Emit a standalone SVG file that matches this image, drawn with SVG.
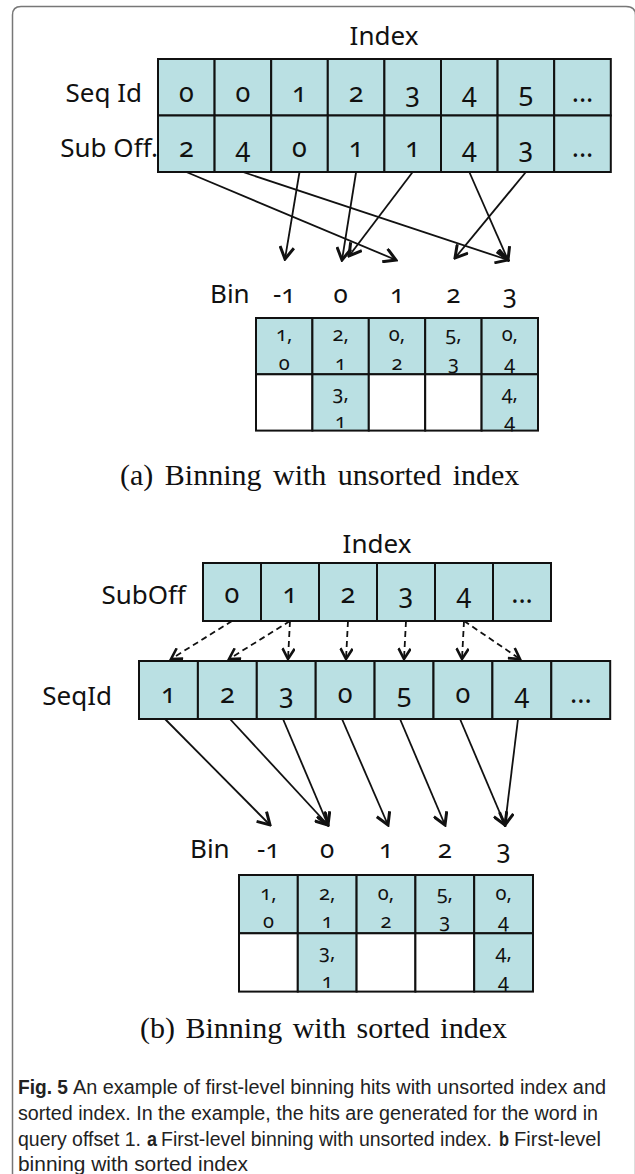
<svg xmlns="http://www.w3.org/2000/svg" width="635" height="1174" viewBox="0 0 635 1174">
<style>
.cell{fill:#bae0e3;stroke:#111;stroke-width:2}
.empty{fill:#fff;stroke:#111;stroke-width:2}
.lbl{font-family:"Noto Sans","Liberation Sans",sans-serif;font-size:26px;fill:#111}
.num{font-family:"Noto Sans","Liberation Sans",sans-serif;font-size:27px;fill:#111;text-anchor:middle;font-variant-numeric:oldstyle-nums;font-feature-settings:"onum"}
.bnum{font-family:"Noto Sans","Liberation Sans",sans-serif;font-size:20px;fill:#111;text-anchor:middle;font-variant-numeric:oldstyle-nums;font-feature-settings:"onum"}
.sub{font-family:"Liberation Serif","Times New Roman",serif;font-size:30px;fill:#111;word-spacing:4px}
.cap{font-family:"Liberation Sans",Arial,sans-serif;font-size:20px;fill:#222}
.capb{font-family:"Liberation Sans",Arial,sans-serif;font-size:20px;fill:#222;font-weight:bold}
.conn{stroke:#111;stroke-width:1.8;fill:none;marker-end:url(#ah)}
.dash{stroke:#111;stroke-width:1.8;fill:none;stroke-dasharray:6 4;marker-end:url(#ahd)}
</style>
<defs>
<marker id="ah" viewBox="0 0 16 16" refX="14" refY="8" markerWidth="16" markerHeight="16" markerUnits="userSpaceOnUse" orient="auto">
<path d="M2,1 L14,8 L2,15" fill="none" stroke="#111" stroke-width="3"/>
</marker>
<marker id="ahd" viewBox="0 0 16 16" refX="14" refY="8" markerWidth="14" markerHeight="14" markerUnits="userSpaceOnUse" orient="auto">
<path d="M2,1 L14,8 L2,15" fill="none" stroke="#111" stroke-width="3"/>
</marker>
</defs>

<path id="frame" d="M12.5,1174 V15 Q12.5,6.5 21,6.5 H626 Q635.5,6.5 635.5,15 V1174" fill="none" stroke="#777" stroke-width="1.5"/>

<!-- (a) -->
<g id="a-index">
<text class="lbl" x="384" y="45" text-anchor="middle">Index</text>
<text class="lbl" x="142" y="102" text-anchor="end">Seq Id</text>
<text class="lbl" x="158" y="157" text-anchor="end" font-size="27">Sub Off.</text>
<rect class="cell" x="158" y="59" width="56.6" height="56.5"/>
<rect class="cell" x="214.6" y="59" width="56.6" height="56.5"/>
<rect class="cell" x="271.2" y="59" width="56.6" height="56.5"/>
<rect class="cell" x="327.8" y="59" width="56.6" height="56.5"/>
<rect class="cell" x="384.4" y="59" width="56.6" height="56.5"/>
<rect class="cell" x="441" y="59" width="56.6" height="56.5"/>
<rect class="cell" x="497.6" y="59" width="56.6" height="56.5"/>
<rect class="cell" x="554.2" y="59" width="56.6" height="56.5"/>
<rect class="cell" x="158" y="115.5" width="56.6" height="56.5"/>
<rect class="cell" x="214.6" y="115.5" width="56.6" height="56.5"/>
<rect class="cell" x="271.2" y="115.5" width="56.6" height="56.5"/>
<rect class="cell" x="327.8" y="115.5" width="56.6" height="56.5"/>
<rect class="cell" x="384.4" y="115.5" width="56.6" height="56.5"/>
<rect class="cell" x="441" y="115.5" width="56.6" height="56.5"/>
<rect class="cell" x="497.6" y="115.5" width="56.6" height="56.5"/>
<rect class="cell" x="554.2" y="115.5" width="56.6" height="56.5"/>
<text class="num" y="102"><tspan x="186.3">0</tspan><tspan x="242.9">0</tspan><tspan x="299.5">1</tspan><tspan x="356.1">2</tspan><tspan x="412.7">3</tspan><tspan x="469.3">4</tspan><tspan x="525.9">5</tspan><tspan x="582.5">...</tspan></text>
<text class="num" y="157"><tspan x="186.3">2</tspan><tspan x="242.9">4</tspan><tspan x="299.5">0</tspan><tspan x="356.1">1</tspan><tspan x="412.7">1</tspan><tspan x="469.3">4</tspan><tspan x="525.9">3</tspan><tspan x="582.5">...</tspan></text>
</g>

<g id="a-connectors">
<line class="conn" x1="186.3" y1="172" x2="396" y2="260"/>
<line class="conn" x1="242.9" y1="172" x2="508" y2="260"/>
<line class="conn" x1="299.5" y1="172" x2="285" y2="259"/>
<line class="conn" x1="356.1" y1="172" x2="342" y2="260"/>
<line class="conn" x1="412.7" y1="172" x2="349" y2="256"/>
<line class="conn" x1="469.3" y1="172" x2="508" y2="260"/>
<line class="conn" x1="525.9" y1="172" x2="455" y2="258"/>
</g>

<g id="a-bins">
<text class="lbl" x="210" y="303">Bin</text>
<text class="lbl" y="303" text-anchor="middle" style="font-variant-numeric:oldstyle-nums;font-feature-settings:'onum'"><tspan x="284.2">-1</tspan><tspan x="340.6">0</tspan><tspan x="397">1</tspan><tspan x="453.4">2</tspan><tspan x="509.8">3</tspan></text>
<rect class="cell" x="256" y="318" width="56.4" height="56.3"/>
<rect class="cell" x="312.4" y="318" width="56.4" height="56.3"/>
<rect class="cell" x="368.8" y="318" width="56.4" height="56.3"/>
<rect class="cell" x="425.2" y="318" width="56.4" height="56.3"/>
<rect class="cell" x="481.6" y="318" width="56.4" height="56.3"/>
<rect class="empty" x="256" y="374.3" width="56.4" height="56.3"/>
<rect class="cell" x="312.4" y="374.3" width="56.4" height="56.3"/>
<rect class="empty" x="368.8" y="374.3" width="56.4" height="56.3"/>
<rect class="empty" x="425.2" y="374.3" width="56.4" height="56.3"/>
<rect class="cell" x="481.6" y="374.3" width="56.4" height="56.3"/>
<text class="bnum" y="341"><tspan x="284.2">1,</tspan><tspan x="340.6">2,</tspan><tspan x="397">0,</tspan><tspan x="453.4">5,</tspan><tspan x="509.8">0,</tspan></text>
<text class="bnum" y="370"><tspan x="284.2">0</tspan><tspan x="340.6">1</tspan><tspan x="397">2</tspan><tspan x="453.4">3</tspan><tspan x="509.8">4</tspan></text>
<text class="bnum" y="400"><tspan x="340.6">3,</tspan><tspan x="509.8">4,</tspan></text>
<text class="bnum" y="428"><tspan x="340.6">1</tspan><tspan x="509.8">4</tspan></text>
</g>

<text class="sub" x="120" y="485">(a) Binning with unsorted index</text>

<!-- (b) -->
<g id="b-suboff">
<text class="lbl" x="377" y="553" text-anchor="middle">Index</text>
<text class="lbl" x="186" y="604" text-anchor="end" font-size="27">SubOff</text>
<rect class="cell" x="203" y="563" width="58" height="58"/>
<rect class="cell" x="261" y="563" width="58" height="58"/>
<rect class="cell" x="319" y="563" width="58" height="58"/>
<rect class="cell" x="377" y="563" width="58" height="58"/>
<rect class="cell" x="435" y="563" width="58" height="58"/>
<rect class="cell" x="493" y="563" width="58" height="58"/>
<text class="num" y="603"><tspan x="232">0</tspan><tspan x="290">1</tspan><tspan x="348">2</tspan><tspan x="406">3</tspan><tspan x="464">4</tspan><tspan x="522">...</tspan></text>
</g>

<g id="b-dashed">
<line class="dash" x1="232" y1="621" x2="171" y2="659"/>
<line class="dash" x1="290" y1="621" x2="229" y2="659"/>
<line class="dash" x1="290" y1="621" x2="288" y2="659"/>
<line class="dash" x1="348" y1="621" x2="346" y2="659"/>
<line class="dash" x1="406" y1="621" x2="404" y2="659"/>
<line class="dash" x1="464" y1="621" x2="462" y2="659"/>
<line class="dash" x1="464" y1="621" x2="520" y2="659"/>
</g>

<g id="b-seqid">
<text class="lbl" x="112" y="705" text-anchor="end" font-size="27">SeqId</text>
<rect class="cell" x="139" y="661" width="58.9" height="58"/>
<rect class="cell" x="197.9" y="661" width="58.9" height="58"/>
<rect class="cell" x="256.8" y="661" width="58.9" height="58"/>
<rect class="cell" x="315.7" y="661" width="58.9" height="58"/>
<rect class="cell" x="374.6" y="661" width="58.9" height="58"/>
<rect class="cell" x="433.5" y="661" width="58.9" height="58"/>
<rect class="cell" x="492.4" y="661" width="58.9" height="58"/>
<rect class="cell" x="551.3" y="661" width="58.9" height="58"/>
<text class="num" y="703"><tspan x="168.5">1</tspan><tspan x="227.4">2</tspan><tspan x="286.3">3</tspan><tspan x="345.2">0</tspan><tspan x="404.1">5</tspan><tspan x="463">0</tspan><tspan x="521.9">4</tspan><tspan x="580.8">...</tspan></text>
</g>

<g id="b-connectors">
<line class="conn" x1="165" y1="719" x2="270" y2="825"/>
<line class="conn" x1="230" y1="719" x2="328" y2="825"/>
<line class="conn" x1="283" y1="719" x2="328" y2="825"/>
<line class="conn" x1="342" y1="719" x2="388" y2="825"/>
<line class="conn" x1="400" y1="719" x2="445" y2="825"/>
<line class="conn" x1="460" y1="719" x2="505" y2="825"/>
<line class="conn" x1="518" y1="719" x2="505" y2="825"/>
</g>

<g id="b-bins">
<text class="lbl" x="190" y="858">Bin</text>
<text class="lbl" y="858" text-anchor="middle" style="font-variant-numeric:oldstyle-nums;font-feature-settings:'onum'"><tspan x="268.4">-1</tspan><tspan x="327.2">0</tspan><tspan x="386">1</tspan><tspan x="444.8">2</tspan><tspan x="503.6">3</tspan></text>
<rect class="cell" x="239" y="875" width="58.8" height="58.3"/>
<rect class="cell" x="297.8" y="875" width="58.8" height="58.3"/>
<rect class="cell" x="356.6" y="875" width="58.8" height="58.3"/>
<rect class="cell" x="415.4" y="875" width="58.8" height="58.3"/>
<rect class="cell" x="474.2" y="875" width="58.8" height="58.3"/>
<rect class="empty" x="239" y="933.3" width="58.8" height="58.3"/>
<rect class="cell" x="297.8" y="933.3" width="58.8" height="58.3"/>
<rect class="empty" x="356.6" y="933.3" width="58.8" height="58.3"/>
<rect class="empty" x="415.4" y="933.3" width="58.8" height="58.3"/>
<rect class="cell" x="474.2" y="933.3" width="58.8" height="58.3"/>
<text class="bnum" y="900"><tspan x="268.4">1,</tspan><tspan x="327.2">2,</tspan><tspan x="386">0,</tspan><tspan x="444.8">5,</tspan><tspan x="503.6">0,</tspan></text>
<text class="bnum" y="928"><tspan x="268.4">0</tspan><tspan x="327.2">1</tspan><tspan x="386">2</tspan><tspan x="444.8">3</tspan><tspan x="503.6">4</tspan></text>
<text class="bnum" y="959"><tspan x="327.2">3,</tspan><tspan x="503.6">4,</tspan></text>
<text class="bnum" y="988"><tspan x="327.2">1</tspan><tspan x="503.6">4</tspan></text>
</g>

<text class="sub" x="140" y="1038" style="word-spacing:3px">(b) Binning with sorted index</text>

<g id="caption">
<text class="capb" x="18" y="1094" textLength="50" lengthAdjust="spacingAndGlyphs">Fig. 5</text>
<text class="cap" x="73" y="1094" textLength="533" lengthAdjust="spacingAndGlyphs">An example of first-level binning hits with unsorted index and</text>
<text class="cap" x="18" y="1120" textLength="580" lengthAdjust="spacingAndGlyphs">sorted index. In the example, the hits are generated for the word in</text>
<text class="cap" x="18" y="1146" textLength="123" lengthAdjust="spacingAndGlyphs">query offset 1.</text>
<text class="capb" x="147" y="1146" textLength="10" lengthAdjust="spacingAndGlyphs">a</text>
<text class="cap" x="161" y="1146" textLength="331" lengthAdjust="spacingAndGlyphs">First-level binning with unsorted index.</text>
<text class="capb" x="499" y="1146" textLength="10" lengthAdjust="spacingAndGlyphs">b</text>
<text class="cap" x="514" y="1146" textLength="87" lengthAdjust="spacingAndGlyphs">First-level</text>
<text class="cap" x="18" y="1171" textLength="230" lengthAdjust="spacingAndGlyphs">binning with sorted index</text>
</g>
</svg>
